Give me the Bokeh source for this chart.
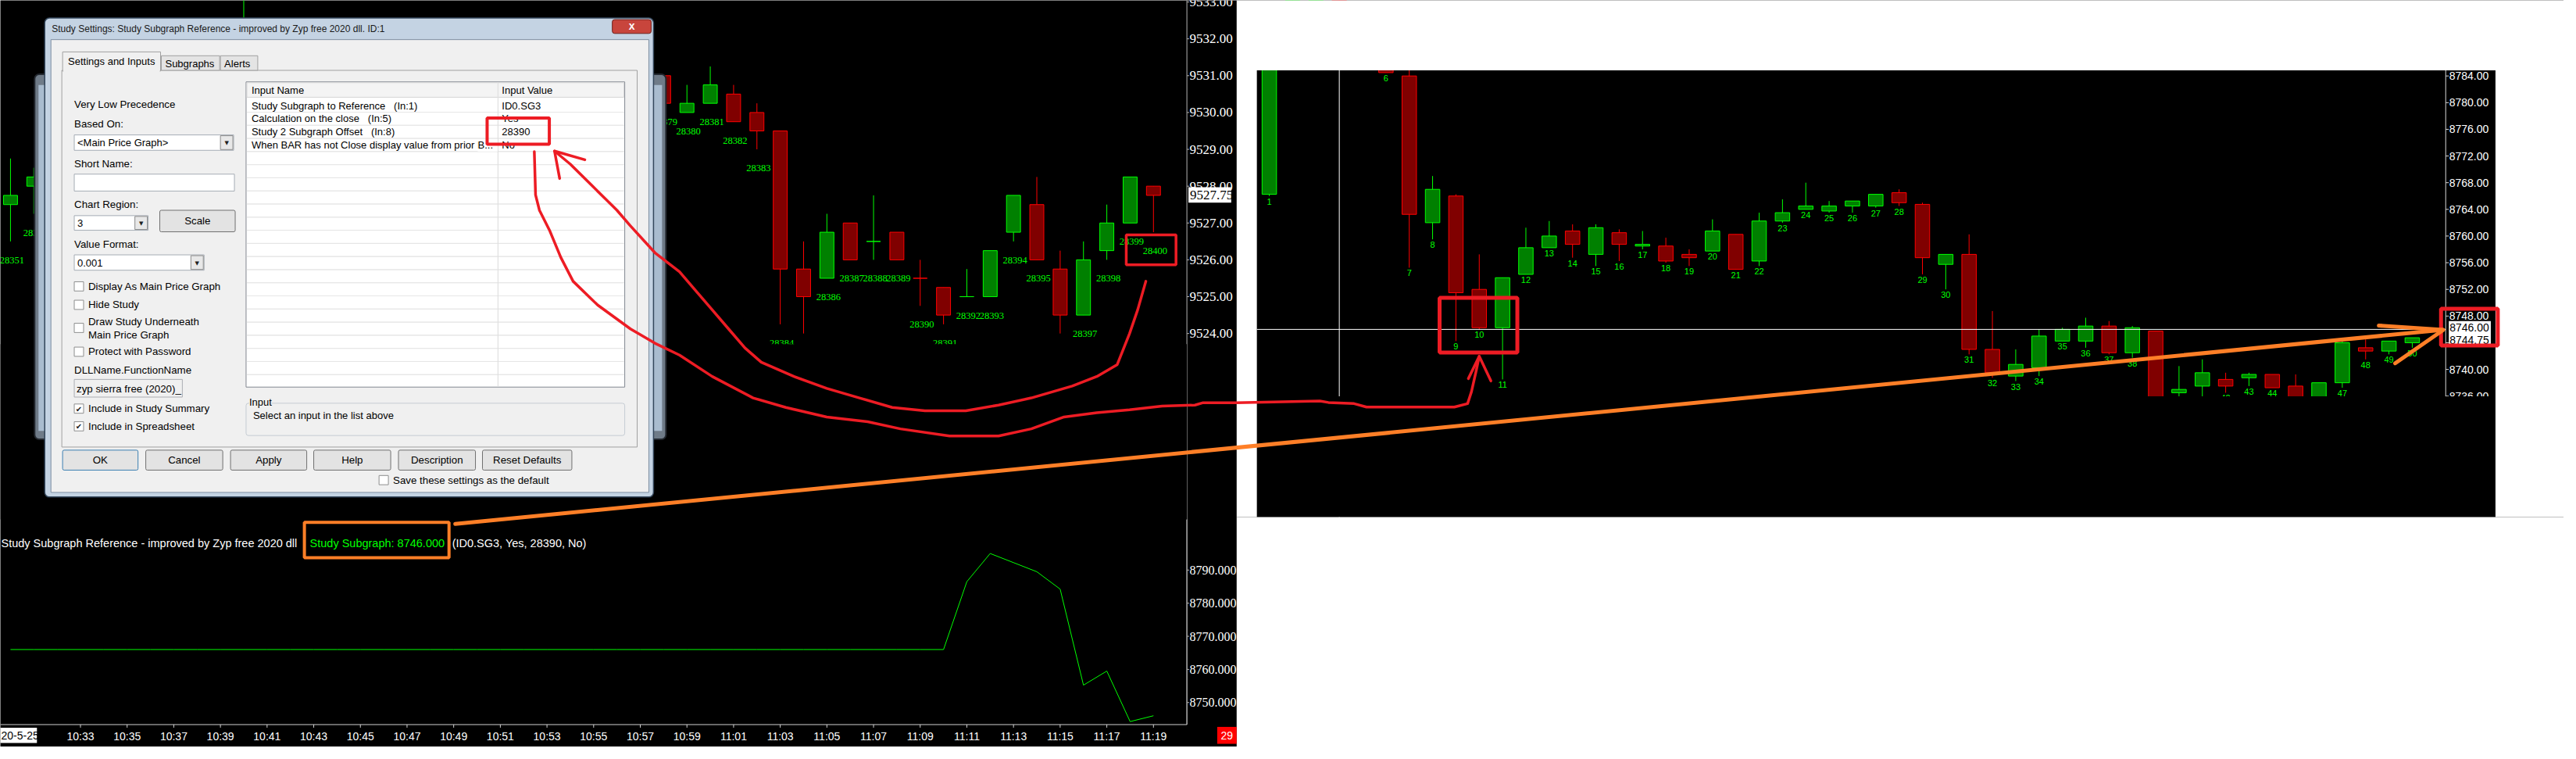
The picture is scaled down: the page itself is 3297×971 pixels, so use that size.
import numpy as np
from bokeh.plotting import figure
from bokeh.models import Range1d, BoxAnnotation, Label, ColumnDataSource
from bokeh.embed import file_html
from bokeh.resources import INLINE
from bokeh.core.properties import value

# ============================ DATA ============================
# Main price graph (upper left), 1-minute bars; bar 28351 = 10:30
left_bars = [28351, 28352, 28361, 28379, 28380, 28381, 28382, 28383, 28384, 28385,
             28386, 28387, 28388, 28389, 28390, 28391, 28392, 28393, 28394, 28395,
             28396, 28397, 28398, 28399, 28400]
left_open = [9527.5, 9528.0, 9531.5, 9531.0, 9530.0, 9530.25, 9530.5, 9530.0, 9529.5, 9525.75,
             9525.5, 9527.0, 9526.5, 9526.75, 9525.5, 9525.25, 9525.0, 9525.0, 9526.75, 9527.5,
             9525.75, 9524.5, 9526.25, 9527.0, 9528.0]
left_high = [9528.75, 9528.5, 9533.25, 9531.0, 9530.75, 9531.25, 9530.75, 9530.25, 9529.5, 9526.5,
             9527.25, 9527.0, 9527.75, 9526.75, 9526.0, 9525.25, 9525.75, 9526.25, 9527.75, 9528.25,
             9526.25, 9526.5, 9527.5, 9528.25, 9528.0]
left_low = [9526.5, 9527.25, 9530.75, 9530.25, 9530.0, 9530.25, 9529.75, 9529.0, 9524.25, 9524.0,
            9525.5, 9526.0, 9526.0, 9526.0, 9524.75, 9524.25, 9525.0, 9525.0, 9526.5, 9526.0,
            9524.0, 9524.5, 9526.0, 9527.0, 9526.75]
left_close = [9527.75, 9528.25, 9532.0, 9530.25, 9530.25, 9530.75, 9529.75, 9529.5, 9525.75, 9525.0,
              9526.75, 9526.0, 9526.5, 9526.0, 9525.5, 9524.5, 9525.0, 9526.25, 9527.75, 9526.0,
              9524.5, 9526.0, 9527.0, 9528.25, 9527.75]
left_price_ticks = [9524, 9525, 9526, 9527, 9528, 9529, 9530, 9531, 9532, 9533]
left_last_price = "9527.75"

# Study Subgraph Reference (lower left)
study_bars = list(range(28351, 28401))
study_values = [8766.0, 8766.0, 8766.0, 8766.0, 8766.0, 8766.0, 8766.0, 8766.0, 8766.0, 8766.0,
                8766.0, 8766.0, 8766.0, 8766.0, 8766.0, 8766.0, 8766.0, 8766.0, 8766.0, 8766.0,
                8766.0, 8766.0, 8766.0, 8766.0, 8766.0, 8766.0, 8766.0, 8766.0, 8766.0, 8766.0,
                8766.0, 8766.0, 8766.0, 8766.0, 8766.0, 8766.0, 8766.0, 8766.0, 8766.0, 8766.0,
                8766.0, 8786.5, 8795.0, 8792.25, 8789.5, 8784.25, 8755.25, 8759.5, 8744.25, 8746.0]
study_ticks = [8750, 8760, 8770, 8780, 8790]
time_tick_bars = [28354, 28356, 28358, 28360, 28362, 28364, 28366, 28368, 28370, 28372, 28374, 28376,
                  28378, 28380, 28382, 28384, 28386, 28388, 28390, 28392, 28394, 28396, 28398, 28400]
time_tick_labels = ["10:33", "10:35", "10:37", "10:39", "10:41", "10:43", "10:45", "10:47",
                    "10:49", "10:51", "10:53", "10:55", "10:57", "10:59", "11:01", "11:03",
                    "11:05", "11:07", "11:09", "11:11", "11:13", "11:15", "11:17", "11:19"]
date_label = "20-5-25"
timer_label = "29"
study_title = "Study Subgraph Reference - improved by Zyp free 2020 dll"
study_value_text = "Study Subgraph: 8746.000"
study_inputs_text = "(ID0.SG3, Yes, 28390, No)"

# Referenced chart (right), bars 1..50
right_bars = list(range(1, 51))
right_open = [8766.25, 8787.0, 8795.75, 8796.5, 8792.75, 8790.0, 8784.0, 8762.0, 8766.0, 8752.0,
              8746.25, 8754.25, 8758.25, 8760.75, 8757.25, 8760.5, 8758.5, 8758.5, 8757.25, 8757.75,
              8760.25, 8756.25, 8762.25, 8764.0, 8763.75, 8764.5, 8764.5, 8766.5, 8764.75, 8755.75,
              8757.25, 8743.0, 8739.0, 8740.25, 8744.25, 8744.25, 8746.5, 8742.5, 8745.75, 8736.5,
              8737.5, 8738.5, 8738.75, 8739.25, 8737.5, 8735.75, 8738.0, 8743.25, 8742.75, 8744.0]
right_high = [8788.5, 8797.5, 8798.0, 8797.0, 8793.5, 8791.0, 8785.5, 8769.0, 8766.25, 8757.25,
              8753.75, 8761.25, 8762.25, 8761.75, 8761.75, 8761.0, 8760.75, 8759.75, 8758.0, 8762.5,
              8760.25, 8763.5, 8765.5, 8768.0, 8765.25, 8765.25, 8766.25, 8767.0, 8765.0, 8757.25,
              8760.25, 8748.75, 8743.0, 8746.0, 8746.25, 8747.75, 8747.25, 8746.5, 8745.75, 8740.5,
              8741.5, 8739.5, 8739.5, 8739.25, 8739.25, 8738.0, 8744.75, 8744.5, 8744.25, 8744.75]
right_low = [8766.0, 8786.5, 8795.0, 8792.25, 8789.5, 8784.5, 8755.25, 8759.5, 8744.25, 8746.0,
             8738.5, 8754.25, 8758.25, 8756.75, 8755.5, 8756.25, 8758.0, 8756.0, 8755.5, 8757.75,
             8755.0, 8755.5, 8762.0, 8764.0, 8763.5, 8763.5, 8764.25, 8764.5, 8754.25, 8752.0,
             8742.25, 8738.75, 8738.25, 8739.0, 8744.25, 8743.25, 8742.25, 8741.75, 8734.5, 8735.5,
             8735.25, 8736.5, 8737.5, 8737.25, 8735.25, 8735.5, 8737.25, 8741.5, 8742.25, 8743.25]
right_close = [8787.0, 8795.75, 8796.5, 8792.75, 8790.0, 8784.5, 8763.25, 8767.0, 8751.5, 8746.25,
               8753.75, 8758.25, 8760.0, 8758.75, 8761.25, 8758.75, 8758.75, 8756.25, 8756.75, 8760.75,
               8755.0, 8762.25, 8763.5, 8764.5, 8764.5, 8765.25, 8766.25, 8765.0, 8756.75, 8757.25,
               8743.0, 8739.5, 8740.75, 8745.0, 8746.0, 8746.5, 8742.5, 8746.25, 8735.25, 8737.0,
               8739.5, 8737.5, 8739.25, 8737.25, 8735.75, 8738.0, 8744.0, 8742.75, 8744.25, 8744.75]
right_price_ticks = [8736, 8740, 8744, 8748, 8752, 8756, 8760, 8764, 8768, 8772, 8776, 8780, 8784]
crosshair_bar = 4
crosshair_price = 8746.0
crosshair_label = "8746.00"
right_last_price = "8744.75"

# Study settings dialog texts
NB = "\u00a0"
dialog_title = "Study Settings: Study Subgraph Reference - improved by Zyp free 2020 dll. ID:1"
dialog_tabs = ["Settings and Inputs", "Subgraphs", "Alerts"]
input_names = ["Study Subgraph to Reference" + NB * 3 + "(In:1)",
               "Calculation on the close" + NB * 3 + "(In:5)",
               "Study 2 Subgraph Offset" + NB * 3 + "(In:8)",
               "When BAR has not Close display value from prior B..."]
input_values = ["ID0.SG3", "Yes", "28390", "No"]
dialog_buttons = ["OK", "Cancel", "Apply", "Help", "Description", "Reset Defaults"]

# ============================ LAYOUT ============================
# One canvas; its default ranges are the reference's pixel grid (y downwards).
REF_W, REF_H = 3297, 971
PAGE_W, PAGE_H = 3281, 955


def lin(ra, va, rb, vb, r):
    return va + (r - ra) * (vb - va) / (rb - ra)


def span_range(ra, va, rb, vb, lo, hi):
    return Range1d(lin(ra, va, rb, vb, lo), lin(ra, va, rb, vb, hi))


UI = "Liberation Sans"
NARROW = "Liberation Sans Narrow"
SYM = "DejaVu Sans"
GREEN_FILL, GREEN_LINE = "#008000", "#00ff00"
RED_FILL, RED_LINE = "#800000", "#ff0000"
PAINT_RED = "#ed1c24"
PAINT_ORANGE = "#ff7f27"

p = figure(width=PAGE_W, height=PAGE_H, x_range=Range1d(0, REF_W), y_range=Range1d(REF_H, 0),
           x_axis_location=None, y_axis_location=None, title=None, toolbar_location=None,
           output_backend="svg", min_border=0)
p.min_border_left = p.min_border_right = p.min_border_top = p.min_border_bottom = 0
p.background_fill_color = "black"
p.border_fill_color = "black"
p.outline_line_color = None
p.xgrid.visible = False
p.ygrid.visible = False

# data scales of the three panels, placed on the pixel grid
p.extra_x_ranges = {
    "ax": span_range(13, 28351, 1483, 28400, 0, REF_W),
    "bx": span_range(1632, 1, 3102, 50, 0, REF_W),
}
p.extra_y_ranges = {
    "a1y": span_range(50, 9532, 433.3, 9524, REF_H, 0),
    "a2y": span_range(741, 8790, 913.3, 8750, REF_H, 0),
    "by": span_range(98.3, 8784, 480, 8740, REF_H, 0),
}


def candles(bars, o, h, l, c, width, font, size, offset, xr, yr, label_dx=0):
    o, h, l, c = map(np.asarray, (o, h, l, c))
    prev = np.concatenate([[o[0]], c[:-1]])
    up = np.where(c != o, c > o, c >= prev)
    src = ColumnDataSource(dict(
        x=bars, top=np.maximum(o, c), bottom=np.minimum(o, c), high=h, low=l,
        fill=[GREEN_FILL if u else RED_FILL for u in up],
        line=[GREEN_LINE if u else RED_LINE for u in up],
        label=[str(b) for b in bars]))
    kw = dict(source=src, x_range_name=xr, y_range_name=yr)
    p.segment(x0="x", y0="high", x1="x", y1="low", line_color="line", line_width=1, **kw)
    p.vbar(x="x", width=width, top="top", bottom="bottom", fill_color="fill",
           line_color="line", line_width=1, **kw)
    p.text(x="x", y="low", text="label", text_font=value(font),
           text_font_size=value(f"{size}px"), text_color=GREEN_LINE, text_align="center",
           text_baseline="middle", y_offset=offset, x_offset=label_dx, **kw)


def price_scale(ticks, fmt, yr, x_line, y_top, y_bottom, tick_len, font, size, color):
    n = len(ticks)
    p.segment(x0=[x_line], y0=[y_top], x1=[x_line], y1=[y_bottom], line_color=color, line_width=1)
    p.segment(x0=[x_line] * n, x1=[x_line + tick_len] * n, y0=ticks, y1=ticks,
              line_color=color, line_width=1, y_range_name=yr)
    p.text(x=[x_line + tick_len + 0.5] * n, y=ticks, text=[fmt % t for t in ticks],
           text_font=value(font), text_font_size=value(f"{size}px"), text_color="white",
           text_align="left", text_baseline="middle", y_range_name=yr)


def ann_box(l, r, t, b, fill=None, line=None, lw=1.0, radius=0):
    kw = dict(left=l, right=r, top=t, bottom=b,
              fill_color=fill if fill else "white", fill_alpha=1.0 if fill else 0.0,
              line_color=line if line else "black", line_alpha=1.0 if line else 0.0,
              line_width=lw)
    if radius:
        kw["border_radius"] = radius
    p.add_layout(BoxAnnotation(**kw))


def ann_text(x, y, s, size=13, color="black", font=UI, align="left", baseline="middle",
             bold=False, bg=None):
    lab = Label(x=x, y=y, text=s, text_font=font, text_font_size=f"{size}px",
                text_color=color, text_align=align, text_baseline=baseline,
                text_font_style="bold" if bold else "normal")
    if bg:
        lab.background_fill_color = bg
    p.add_layout(lab)


def stroke(pts, color, width):
    p.line(x=[q[0] for q in pts], y=[q[1] for q in pts], line_color=color, line_width=width,
           line_join="round", line_cap="round", level="overlay")


# ---------------- glyph layer: charts and their scales ----------------
candles(left_bars, left_open, left_high, left_low, left_close, 0.6, NARROW, 12.5, 24, "ax", "a1y",
        label_dx=2)
p.line(x=study_bars, y=study_values, line_color="#00ff00", line_width=1,
       x_range_name="ax", y_range_name="a2y")
candles(right_bars, right_open, right_high, right_low, right_close, 0.62, UI, 11, 7, "bx", "by")

price_scale(left_price_ticks, "%.2f", "a1y", 1526, 0, 942, 3, NARROW, 17, "#b4b4b4")
price_scale(study_ticks, "%.3f", "a2y", 1526, 675, 942, 3, NARROW, 16, "#b4b4b4")
price_scale(right_price_ticks, "%.2f", "by", 3145, 91, 515, 4, UI, 14, "#d8d8d8")

nt = len(time_tick_bars)
p.segment(x0=[0], y0=[942], x1=[1526], y1=[942], line_color="#d0d0d0", line_width=1)
p.segment(x0=time_tick_bars, x1=time_tick_bars, y0=[942] * nt, y1=[946] * nt,
          line_color="#d0d0d0", x_range_name="ax")
p.text(x=time_tick_bars, y=[957] * nt, text=time_tick_labels, text_font=value(UI),
       text_font_size=value("14px"), text_color="white", text_align="center",
       text_baseline="middle", x_range_name="ax")

# crosshair of the referenced chart
p.segment(x0=[1616], x1=[3145], y0=[crosshair_price], y1=[crosshair_price],
          line_color="white", line_width=1, y_range_name="by")
p.segment(x0=[crosshair_bar], x1=[crosshair_bar], y0=[91], y1=[672],
          line_color="white", line_width=1, x_range_name="bx")

# ---------------- annotation layer ----------------
# chart region limits
ann_box(0, 1526, 447, 675, fill="black")                  # end of the main price region
ann_box(1616, 3145, 515, 672, fill="black")               # end of referenced chart region
ann_box(3145.5, 3209, 515, 672, fill="black")
ann_box(1590, 3310, -10, 91, fill="white")                # white page around right screenshot
ann_box(1590, 1616, 91, 672, fill="white")
ann_box(3209, 3310, 91, 672, fill="white")
ann_box(1590, 3310, 672, 990, fill="white")
# redraw the crosshair segment hidden by the region limit
p.segment(x0=[crosshair_bar], x1=[crosshair_bar], y0=[515], y1=[672],
          line_color="white", line_width=1, x_range_name="bx", level="annotation")

# price markers
ann_box(1528, 1583, 243, 263, fill="white")
ann_text(1530, 253.5, left_last_price, 17, "black", NARROW)
ann_box(3149, 3203, 417, 447, fill="white")
ann_text(3150, 426, crosshair_label, 14, "black")
ann_text(3150, 441.5, right_last_price, 14, "black")
# date and timer boxes
ann_box(-5, 47, 946, 966, fill="white")
ann_text(1, 956.5, date_label, 14, "black")
ann_box(1565, 1590, 945, 967, fill="#ff0000")
ann_text(1577.5, 956.5, timer_label, 14, "white", align="center")
# study legend
ann_text(1, 706, study_title, 14.5, "white")
ann_text(398, 706, study_value_text, 14.5, "#00ff00")
ann_text(581, 706, study_inputs_text, 14.5, "white")


def combo(l, r, t, b, txt):
    ann_box(l, r, t, b, fill="white", line="#a5acb5")
    ann_box(r - 17, r - 1, t + 1, b - 1, fill="#e8e8e8", line="#8a8a8a")
    ann_text(r - 9, (t + b) / 2 + 1, "▼", 7, "#202020", SYM, align="center")
    ann_text(l + 4, (t + b) / 2 + 0.5, txt, 13)


def checkbox(x, y, txt, checked=False):
    ann_box(x, x + 12, y - 6, y + 6, fill="white", line="#8e8f8f")
    if checked:
        ann_text(x + 6, y + 0.5, "✔", 10, "#1a1a1a", SYM, align="center")
    if txt:
        ann_text(x + 18, y, txt, 13.3)


def button(l, r, t, b, txt, focus=False):
    ann_box(l, r, t, b, fill="#e3e3e3", line="#3c7fb1" if focus else "#707070", radius=2)
    ann_text((l + r) / 2, (t + b) / 2, txt, 13.3, align="center")


# window behind the dialog
ann_box(44, 856, 96, 571, fill="#6f7b88", line="#23282f", lw=2, radius=6)
ann_box(49, 61, 110, 560, fill="#a9bccf")
ann_box(838, 851, 110, 560, fill="#a9bccf")
# dialog frame
ann_box(57, 840, 23, 646, fill="#c4d3e3", line="#34475c", lw=1.5, radius=6)
ann_text(66, 37, dialog_title, 12, "#1a1a1a")
ann_box(787, 837, 25, 43, fill="#c8453c", line="#6d1f1a", radius=3)
ann_text(812, 33.5, "x", 14, "white", align="center", bold=True)
ann_box(65, 834, 51, 640, fill="#f0f0f0", line="#7d8ea1")
# tabs
ann_box(79, 819, 91, 581, fill="#f0f0f0", line="#a0a0a0")
ann_box(207, 282, 72, 91, fill="#e4e4e4", line="#a0a0a0")
ann_box(283, 331, 72, 91, fill="#e4e4e4", line="#a0a0a0")
ann_box(80, 206, 67, 92, fill="#f0f0f0", line="#a0a0a0")
ann_box(81, 205, 90, 93, fill="#f0f0f0")
ann_text(87, 79.5, dialog_tabs[0], 13)
ann_text(212, 82.5, dialog_tabs[1], 13)
ann_text(288, 82.5, dialog_tabs[2], 13)
# left column controls
ann_text(95, 135, "Very Low Precedence", 13.3)
ann_text(95, 161, "Based On:", 13.3)
combo(95, 300, 175, 195, "<Main Price Graph>")
ann_text(95, 213, "Short Name:", 13.3)
ann_box(95, 301, 226, 248, fill="white", line="#a5acb5")
ann_text(95, 265, "Chart Region:", 13.3)
combo(95, 190, 280, 299, "3")
button(205, 302, 273, 301, "Scale")
ann_text(95, 317, "Value Format:", 13.3)
combo(95, 262, 331, 351, "0.001")
checkbox(95, 372, "Display As Main Price Graph")
checkbox(95, 396, "Hide Study")
checkbox(95, 426, None)
ann_text(113, 418, "Draw Study Underneath", 13.3)
ann_text(113, 435, "Main Price Graph", 13.3)
checkbox(95, 457, "Protect with Password")
ann_text(95, 481, "DLLName.FunctionName", 13.3)
ann_box(95, 234, 493, 516, fill="#f0f0f0", line="#abadb3")
ann_text(98, 505, "zyp sierra free (2020)_", 13.3)
checkbox(95, 531, "Include in Study Summary", True)
checkbox(95, 554, "Include in Spreadsheet", True)
# inputs list
ann_box(316, 803, 106, 503, fill="white", line="#828790")
ann_box(317, 802, 107, 126, fill="#f4f4f4", line="#d5d5d5")
ann_text(323, 116.5, "Input Name", 13)
ann_text(645, 116.5, "Input Value", 13)
k = 1
while 128.3 + 17.07 * k < 502:
    yy = 128.3 + 17.07 * k
    ann_box(317, 802, yy, yy, line="#e6e6e6")
    k += 1
ann_box(640, 640, 107, 502, line="#e0e0e0")
for i, (nm, vl) in enumerate(zip(input_names, input_values)):
    yy = 136.8 + 17.1 * i
    ann_text(323, yy, nm, 13)
    ann_text(645, yy, vl, 13)
ann_box(614, 639.5, 180.5, 196.5, fill="white")
ann_text(614, 188.1, "B...", 13)
# group box
ann_box(316, 803, 524, 566, line="#c5ccd3", radius=3)
ann_text(320, 523, "Input", 13, bg="#f0f0f0")
ann_text(325, 540, "Select an input in the list above", 13)
# buttons
btn_x = [(80, 177), (187, 286), (296, 394), (403, 502), (512, 611), (620, 735)]
for i, (bl, br) in enumerate(btn_x):
    button(bl, br, 585, 611, dialog_buttons[i], focus=(i == 0))
checkbox(487, 624, "Save these settings as the default")

# ---------------- hand-drawn markup ----------------
ann_box(626, 706, 153, 187, line=PAINT_RED, lw=4)
ann_box(1448, 1512, 305, 344, line=PAINT_RED, lw=3.5)
ann_box(1851, 1951, 387, 458, line=PAINT_RED, lw=5)
ann_box(3139, 3212, 401, 449, line=PAINT_RED, lw=5)
ann_box(391, 577, 679, 725, line=PAINT_ORANGE, lw=4)

curve_upper = [(712.7, 196.0), (733.0, 213.0), (760.0, 240.0), (793.0, 273.0), (810.0, 293.0),
               (841.8, 328.2), (873.4, 353.0), (894.5, 377.8), (915.5, 402.5), (936.5, 427.3),
               (957.6, 452.1), (978.6, 470.6), (1020.7, 489.2), (1062.8, 504.7), (1104.9, 517.1),
               (1147.0, 529.5), (1189.1, 533.8), (1241.7, 533.8), (1283.8, 526.4), (1325.9, 517.1),
               (1378.5, 501.6), (1410.1, 489.2), (1436.4, 473.7), (1452.2, 433.5), (1462.7, 402.5),
               (1473.2, 365.4)]
curve_upper_head = [(751.7, 207.3), (712.7, 196.0), (719.3, 231.7)]
curve_lower = [(686.7, 196.7), (688.3, 253.0), (693.3, 273.0), (706.7, 300.0), (720.8, 334.4),
               (736.6, 365.4), (768.2, 396.3), (810.3, 427.3), (841.8, 445.9), (873.4, 461.4),
               (915.5, 489.2), (968.1, 517.1), (1010.2, 529.5), (1062.8, 541.9), (1115.4, 548.1),
               (1157.5, 557.3), (1220.7, 566.6), (1283.8, 566.6), (1325.9, 557.3), (1368.0, 541.9),
               (1410.1, 536.3), (1452.2, 532.6), (1494.3, 527.6), (1536.4, 526.4), (1546.9, 523.3),
               (1589.0, 523.3), (1650.0, 522.0), (1697.0, 521.0), (1708.0, 523.0), (1741.0, 524.5),
               (1757.0, 529.0), (1870.0, 529.0), (1887.0, 524.5), (1892.0, 509.0), (1898.0, 482.0),
               (1902.0, 463.0)]
curve_lower_head = [(1888.0, 492.0), (1902.0, 463.0), (1917.0, 495.0)]
orange_line = [(585.0, 681.0), (3141.0, 428.5)]
orange_head = [(3059.0, 423.0), (3142.0, 428.5), (3080.0, 472.0)]

stroke(curve_upper, PAINT_RED, 3.5)
stroke(curve_upper_head, PAINT_RED, 3.5)
stroke(curve_lower, PAINT_RED, 3.5)
stroke(curve_lower_head, PAINT_RED, 3.5)
stroke(orange_line, PAINT_ORANGE, 5)
stroke(orange_head, PAINT_ORANGE, 5)

open("out.html", "w").write(file_html(p, INLINE))
